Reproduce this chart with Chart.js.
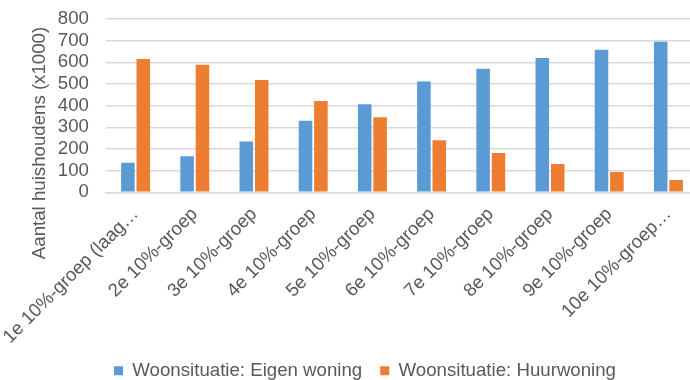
<!DOCTYPE html>
<html>
<head>
<meta charset="utf-8">
<script src="https://cdn.jsdelivr.net/npm/chart.js@4/dist/chart.umd.min.js"></script>
<style>
  html, body { margin: 0; padding: 0; background: #fff; overflow: hidden; }
  #wrap { width: 698px; height: 390px; }
</style>
</head>
<body>
<div id="wrap"><canvas id="incomeChart" width="698" height="390"></canvas></div>
<script>
// income groups (labels are cut off in the original too)
const categories = [
  "1e 10%-groep (laag…", "2e 10%-groep", "3e 10%-groep", "4e 10%-groep", "5e 10%-groep",
  "6e 10%-groep", "7e 10%-groep", "8e 10%-groep", "9e 10%-groep", "10e 10%-groep…"
];
const eigenWoning = [137, 166, 235, 330, 406, 512, 570, 620, 658, 695];
const huurWoning = [615, 589, 518, 421, 346, 240, 181, 131, 94, 57];
const yTicks = [0, 100, 200, 300, 400, 500, 600, 700, 800];
const yTitle = "Aantal huishoudens (x1000)";

const textColor = "#595959";
const gridColor = "#d9d9d9";
const fontFamily = '"Liberation Sans", Arial, sans-serif';
const fontSize = 18.67; // 14pt

// y-axis title is drawn by hand so it sits where Excel put it
const yTitlePlugin = {
  id: "yTitle",
  afterDraw(chart) {
    const ctx = chart.ctx;
    ctx.save();
    ctx.translate(40, 143);
    ctx.rotate(-Math.PI / 2);
    ctx.font = fontSize + "px " + fontFamily;
    ctx.fillStyle = textColor;
    ctx.textAlign = "center";
    ctx.textBaseline = "middle";
    ctx.fillText(yTitle, 0, 0);
    ctx.restore();
  }
};

const ctx = document.getElementById("incomeChart").getContext("2d");
new Chart(ctx, {
  type: "bar",
  data: {
    labels: categories,
    datasets: [
      {
        label: "Woonsituatie: Eigen woning",
        data: eigenWoning,
        backgroundColor: "#5b9bd5",
        barPercentage: 0.88,
        categoryPercentage: 0.52
      },
      {
        label: "Woonsituatie: Huurwoning",
        data: huurWoning,
        backgroundColor: "#ed7d31",
        barPercentage: 0.88,
        categoryPercentage: 0.52
      }
    ]
  },
  options: {
    responsive: false,
    animation: false,
    layout: { autoPadding: false, padding: { top: 19, left: 32, right: 0, bottom: 0 } },
    plugins: {
      tooltip: { enabled: false },
      legend: {
        position: "bottom",
        labels: {
          boxWidth: 9,
          boxHeight: 9,
          padding: 18,
          color: textColor,
          font: { size: fontSize, family: fontFamily }
        }
      }
    },
    scales: {
      x: {
        grid: { display: false },
        border: { color: gridColor, width: 1.5 },
        ticks: {
          color: textColor,
          font: { size: fontSize, family: fontFamily },
          minRotation: 45,
          maxRotation: 45,
          autoSkip: false,
          padding: 3
        },
        afterFit(scale) {
          scale.height = 151;
          scale.paddingLeft = 0;
          scale.paddingRight = 0;
        }
      },
      y: {
        min: 0,
        max: 800,
        afterBuildTicks(scale) { scale.ticks = yTicks.map(v => ({ value: v })); },
        grid: { color: gridColor, lineWidth: 1.5, drawTicks: false },
        border: { display: false },
        ticks: {
          color: textColor,
          font: { size: fontSize, family: fontFamily },
          padding: 17,
          autoSkip: false
        },
        afterFit(scale) {
          scale.width = 74;
          scale.paddingTop = 0;
          scale.paddingBottom = 0;
        }
      }
    }
  },
  plugins: [yTitlePlugin]
});
</script>
</body>
</html>
